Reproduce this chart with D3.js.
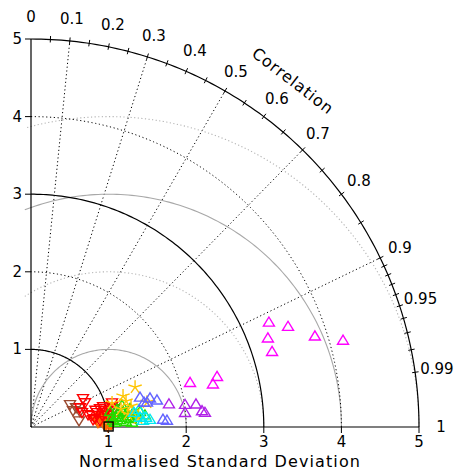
<!DOCTYPE html>
<html>
<head>
<meta charset="utf-8">
<script src="https://cdn.jsdelivr.net/npm/d3@7"></script>
<style>
  body { margin: 0; background: #fff; }
  text { font-family: "DejaVu Sans", sans-serif; fill: #000; }
</style>
</head>
<body>
<div id="chart"></div>
<script>
// normalised std dev and correlation for each model group
const brownStd  = [0.584, 0.635, 0.664, 0.625, 0.584];
const brownCor  = [0.861, 0.914, 0.951, 0.990, 0.927];

const redStd = [0.767, 0.767, 0.682, 0.685, 0.801, 0.806, 0.922, 0.967, 1.092, 1.078,
                0.872, 0.973, 0.833, 1.004, 0.894, 0.754, 0.966, 1.041, 1.098, 0.93, 0.86];
const redCor = [0.873, 0.908, 0.926, 0.959, 0.981, 0.992, 0.964, 0.960, 0.956, 0.968,
                0.975, 0.980, 0.990, 0.988, 0.995, 0.975, 0.974, 0.978, 0.975, 0.985, 0.965];

const orangeStd = [0.865, 0.921, 0.969, 1.025, 0.942, 0.900, 0.993, 1.061, 0.846, 0.969,
                   1.032, 0.99, 0.955, 1.010, 0.880, 1.045, 0.930];
const orangeCor = [0.997, 0.994, 0.997, 0.993, 0.999, 0.988, 0.9986, 0.996, 0.991, 0.985,
                   0.9993, 0.9999, 0.9995, 0.995, 0.9965, 0.9985, 0.991];

const greenStd = [1.050, 1.132, 1.201, 1.258, 1.327, 1.150, 1.226, 1.083, 1.358, 1.297,
                  1.418, 1.130, 1.204, 1.036, 1.303, 1.476, 1.10, 1.17, 1.24, 1.29, 1.37, 1.06];
const greenCor = [0.994, 0.991, 0.987, 0.994, 0.991, 0.997, 0.9986, 0.9988, 0.9963, 0.984,
                  0.991, 0.981, 0.974, 0.983, 0.9992, 0.995, 0.993, 0.995, 0.990, 0.997, 0.993, 0.9975];

const yellowStd = [1.436, 1.251, 1.269, 1.317, 1.529, 1.328, 1.089, 1.261, 1.384, 1.183];
const yellowCor = [0.934, 0.948, 0.965, 0.979, 0.978, 0.989, 0.959, 0.991, 0.9965, 0.981];

const cyanStd = [1.410, 1.487, 1.339, 1.409, 1.445, 1.536];
const cyanCor = [0.9966, 0.9969, 0.991, 0.988, 0.9986, 0.9983];

const blueStd = [1.454, 1.576, 1.658, 1.527, 1.703, 1.754, 1.489];
const blueCor = [0.966, 0.973, 0.979, 0.979, 0.9986, 0.999, 0.978];

const purpleStd = [1.801, 2.005, 2.145, 1.993, 2.213, 2.249];
const purpleCor = [0.987, 0.990, 0.991, 0.996, 0.9959, 0.9968];

const magentaStd = [2.126, 2.407, 2.482, 3.347, 3.554, 3.258, 3.253, 3.839, 4.171];
const magentaCor = [0.964, 0.974, 0.966, 0.916, 0.932, 0.937, 0.955, 0.953, 0.964];

const stdTicks = [1, 2, 3, 4, 5];
const corLabels = [0, 0.1, 0.2, 0.3, 0.4, 0.5, 0.6, 0.7, 0.8, 0.9, 0.95, 0.99, 1];
const corLines = [0.1, 0.3, 0.5, 0.7, 0.9];
const rmsRadii = [1, 2, 3, 4];

const groups = [
  { std: brownStd, cor: brownCor, color: "#9a4a30", shape: "down" },
  { std: orangeStd, cor: orangeCor, color: "#ff6a00", shape: "down" },
  { std: redStd, cor: redCor, color: "#ff0000", shape: "down" },
  { std: greenStd, cor: greenCor, color: "#22dd00", shape: "up" },
  { std: yellowStd, cor: yellowCor, color: "#ffc400", shape: "star" },
  { std: cyanStd, cor: cyanCor, color: "#00e8f0", shape: "up" },
  { std: blueStd, cor: blueCor, color: "#6464ff", shape: "up" },
  { std: purpleStd, cor: purpleCor, color: "#b020e8", shape: "up" },
  { std: magentaStd, cor: magentaCor, color: "#ff00ff", shape: "up" }
];

const width = 456, height = 471;
const ox = 31, oy = 427;
const maxStd = 5;

const r = d3.scaleLinear().domain([0, maxStd]).range([0, 388]);

const svg = d3.select("#chart")
  .append("svg")
  .attr("width", width)
  .attr("height", height);

const g = svg.append("g").attr("transform", `translate(${ox},${oy})`);

// polar -> screen (y up)
const px = (s, c) => r(s) * c;
const py = (s, c) => -r(s) * Math.sqrt(Math.max(0, 1 - c * c));

function arcPath(cx, rad, a0, a1, n = 120) {
  const pts = d3.range(n + 1).map(i => {
    const a = a0 + (a1 - a0) * i / n;
    return [r(cx + rad * Math.cos(a)), -r(rad * Math.sin(a))];
  });
  return d3.line()(pts);
}

// correlation rays
g.selectAll(".corline")
  .data(corLines)
  .enter()
  .append("line")
  .attr("x1", 0).attr("y1", 0)
  .attr("x2", d => px(maxStd, d))
  .attr("y2", d => py(maxStd, d))
  .attr("stroke", "#000")
  .attr("stroke-width", 1)
  .attr("stroke-dasharray", "1.2,2.6");

// centred RMS arcs around the reference point
g.selectAll(".rms")
  .data(rmsRadii)
  .enter()
  .append("path")
  .attr("d", d => {
    const aMax = Math.acos(Math.max(-1, -1.08 / d));
    return arcPath(1, d, 0, aMax);
  })
  .attr("fill", "none")
  .attr("stroke", d => d % 2 ? "#a8a8a8" : "#b4b4b4")
  .attr("stroke-width", 1.1)
  .attr("stroke-dasharray", d => d % 2 ? null : "1.2,2.4");

// std dev arcs
g.selectAll(".stdarc")
  .data(stdTicks)
  .enter()
  .append("path")
  .attr("d", d => arcPath(0, d, 0, Math.PI / 2))
  .attr("fill", "none")
  .attr("stroke", "#000")
  .attr("stroke-width", d => d % 2 ? 1.2 : 1)
  .attr("stroke-dasharray", d => d % 2 ? null : "1.2,2.6");

// axes
g.append("line").attr("x1", 0).attr("y1", 0).attr("x2", r(maxStd)).attr("y2", 0)
  .attr("stroke", "#000").attr("stroke-width", 1.2);
g.append("line").attr("x1", 0).attr("y1", 0).attr("x2", 0).attr("y2", -r(maxStd))
  .attr("stroke", "#000").attr("stroke-width", 1.2);

g.selectAll(".xtick")
  .data(stdTicks)
  .enter()
  .append("line")
  .attr("x1", d => r(d)).attr("x2", d => r(d))
  .attr("y1", 0).attr("y2", 6)
  .attr("stroke", "#000");

g.selectAll(".ytick")
  .data(stdTicks)
  .enter()
  .append("line")
  .attr("y1", d => -r(d)).attr("y2", d => -r(d))
  .attr("x1", 0).attr("x2", -6)
  .attr("stroke", "#000");

g.selectAll(".xlab")
  .data(stdTicks)
  .enter()
  .append("text")
  .attr("x", d => r(d))
  .attr("y", 15)
  .attr("text-anchor", "middle")
  .attr("dominant-baseline", "central")
  .style("font-size", "15px")
  .text(d => d);

g.selectAll(".ylab")
  .data(stdTicks)
  .enter()
  .append("text")
  .attr("x", -9)
  .attr("y", d => -r(d))
  .attr("text-anchor", "end")
  .attr("dominant-baseline", "central")
  .style("font-size", "15px")
  .text(d => d);

// correlation ticks on the outer arc
const corTicks = d3.range(1, 19).map(i => i * 0.05).concat(d3.range(1, 10).map(i => 0.9 + i * 0.01));
g.selectAll(".ctick")
  .data(corTicks)
  .enter()
  .append("line")
  .attr("x1", d => px(maxStd, d) * (r(maxStd) - 3) / r(maxStd))
  .attr("y1", d => py(maxStd, d) * (r(maxStd) - 3) / r(maxStd))
  .attr("x2", d => px(maxStd, d) * (r(maxStd) + 3.5) / r(maxStd))
  .attr("y2", d => py(maxStd, d) * (r(maxStd) + 3.5) / r(maxStd))
  .attr("stroke", "#000");

const labR = 410 / 388 * maxStd;
g.selectAll(".clab")
  .data(corLabels)
  .enter()
  .append("text")
  .attr("x", d => px(labR, d))
  .attr("y", d => py(labR, d))
  .attr("text-anchor", "middle")
  .attr("dominant-baseline", "central")
  .style("font-size", "15px")
  .text(d => d);

svg.append("text")
  .attr("transform", "translate(293,81) rotate(37.5)")
  .attr("text-anchor", "middle")
  .attr("dominant-baseline", "central")
  .style("font-size", "16px")
  .style("letter-spacing", "0.9px")
  .text("Correlation");

svg.append("text")
  .attr("x", 220)
  .attr("y", 461)
  .attr("text-anchor", "middle")
  .attr("dominant-baseline", "central")
  .style("font-size", "16px")
  .style("letter-spacing", "1.1px")
  .text("Normalised Standard Deviation");

// markers
const upTri = "M0,-5.8L5.5,3.3L-5.5,3.3Z";
const downTri = "M0,5.8L5.5,-3.3L-5.5,-3.3Z";
const star = d3.range(5).map(i => {
  const a = -Math.PI / 2 + i * 2 * Math.PI / 5;
  return `M0,0L${(7 * Math.cos(a)).toFixed(2)},${(7 * Math.sin(a)).toFixed(2)}`;
}).join("");
const shapes = { up: upTri, down: downTri, star: star };

groups.forEach(grp => {
  g.append("g")
    .selectAll("path")
    .data(grp.std.map((s, i) => [s, grp.cor[i]]))
    .enter()
    .append("path")
    .attr("transform", d => `translate(${px(d[0], d[1])},${py(d[0], d[1])})`)
    .attr("d", shapes[grp.shape])
    .attr("fill", "none")
    .attr("stroke", grp.color)
    .attr("stroke-width", 1.4);
});

// reference point
g.append("rect")
  .attr("x", r(1) - 4.5).attr("y", -5)
  .attr("width", 9).attr("height", 9)
  .attr("fill", "none")
  .attr("stroke", "#000")
  .attr("stroke-width", 1.4);
</script>
</body>
</html>
